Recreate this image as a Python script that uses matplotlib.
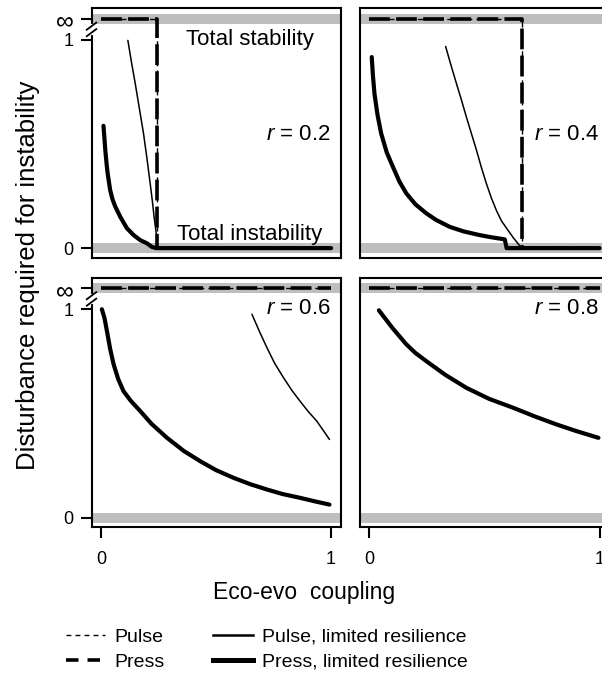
import matplotlib
matplotlib.use('Agg')
import matplotlib.pyplot as plt
import matplotlib.transforms as mtransforms
from matplotlib.lines import Line2D
import numpy as np

plt.rcParams['font.family'] = ['Liberation Sans', 'DejaVu Sans']
plt.rcParams['mathtext.fontset'] = 'custom'
plt.rcParams['mathtext.it'] = 'Liberation Sans:italic'
plt.rcParams['mathtext.rm'] = 'Liberation Sans'
plt.rcParams['lines.scale_dashes'] = False

# ---------------- data ----------------
INF_POS = 1.10   # where "infinity" is drawn on the broken y axis
inf = np.inf

r_values = [0.2, 0.4, 0.6, 0.8]
r_labels = ['0.2', '0.4', '0.6', '0.8']

# Press (unlimited resilience)
press_x_r02 = [0.0, 0.245, 0.245, 1.0]
press_y_r02 = [inf, inf, 0.0, 0.0]
press_x_r04 = [0.0, 0.661, 0.661, 1.0]
press_y_r04 = [inf, inf, 0.0, 0.0]
press_x_r06 = [0.0, 1.0]
press_y_r06 = [inf, inf]
press_x_r08 = [0.0, 1.0]
press_y_r08 = [inf, inf]

# Pulse (unlimited resilience)
pulse_x_r02 = [0.0, 0.245, 0.245, 1.0]
pulse_y_r02 = [inf, inf, 0.0, 0.0]
pulse_x_r04 = [0.0, 0.661, 0.661, 1.0]
pulse_y_r04 = [inf, inf, 0.0, 0.0]
pulse_x_r06 = [0.0, 1.0]
pulse_y_r06 = [inf, inf]
pulse_x_r08 = [0.0, 1.0]
pulse_y_r08 = [inf, inf]

# Pulse, limited resilience
pulse_lr_x_r02 = [0.117, 0.133, 0.149, 0.167, 0.185, 0.200, 0.214, 0.223, 0.231, 0.238, 0.243, 0.246]
pulse_lr_y_r02 = [0.997, 0.89, 0.79, 0.67, 0.55, 0.43, 0.31, 0.23, 0.15, 0.09, 0.047, 0.0]
pulse_lr_x_r04 = [0.331, 0.355, 0.378, 0.400, 0.421, 0.443, 0.465, 0.487, 0.508, 0.530,
                  0.552, 0.574, 0.596, 0.625, 0.661]
pulse_lr_y_r04 = [0.968, 0.875, 0.79, 0.71, 0.63, 0.55, 0.47, 0.385, 0.31, 0.24,
                  0.18, 0.13, 0.095, 0.05, 0.0]
pulse_lr_x_r06 = [0.656, 0.690, 0.721, 0.755, 0.793, 0.830, 0.865, 0.900, 0.938, 0.965, 0.993]
pulse_lr_y_r06 = [0.976, 0.89, 0.816, 0.74, 0.672, 0.61, 0.559, 0.51, 0.463, 0.42, 0.375]
pulse_lr_x_r08 = []
pulse_lr_y_r08 = []

# Press, limited resilience
press_lr_x_r02 = [0.011, 0.015, 0.019, 0.024, 0.029, 0.040, 0.050, 0.062, 0.084, 0.113,
                  0.142, 0.171, 0.200, 0.221, 0.240, 1.0]
press_lr_y_r02 = [0.587, 0.53, 0.47, 0.41, 0.36, 0.279, 0.235, 0.20, 0.15, 0.095,
                  0.0625, 0.038, 0.023, 0.006, 0.0, 0.0]
press_lr_x_r04 = [0.010, 0.015, 0.022, 0.035, 0.051, 0.075, 0.102, 0.130, 0.160, 0.200,
                  0.247, 0.290, 0.349, 0.410, 0.479, 0.530, 0.588, 0.596, 1.0]
press_lr_y_r04 = [0.917, 0.83, 0.74, 0.64, 0.55, 0.46, 0.39, 0.32, 0.263, 0.21,
                  0.167, 0.135, 0.102, 0.08, 0.0625, 0.052, 0.042, 0.0, 0.0]
press_lr_x_r06 = [0.004, 0.015, 0.026, 0.040, 0.055, 0.075, 0.098, 0.130, 0.171, 0.220,
                  0.287, 0.360, 0.431, 0.500, 0.576, 0.650, 0.721, 0.790, 0.865, 0.930, 0.993]
press_lr_y_r06 = [1.0, 0.96, 0.896, 0.81, 0.736, 0.665, 0.607, 0.56, 0.511, 0.45,
                  0.383, 0.32, 0.271, 0.228, 0.191, 0.16, 0.135, 0.113, 0.095, 0.078, 0.0625]
press_lr_x_r08 = [0.041, 0.100, 0.160, 0.200, 0.247, 0.330, 0.421, 0.520, 0.625, 0.720,
                  0.813, 0.900, 0.995]
press_lr_y_r08 = [0.995, 0.91, 0.832, 0.79, 0.751, 0.685, 0.623, 0.57, 0.527, 0.485,
                  0.447, 0.415, 0.383]

x_ticks = [0, 1]
x_tick_labels = ['0', '1']
y_ticks = [0, 1, INF_POS]
y_tick_labels = ['0', '1', '\u221e']

panels = [
    (press_x_r02, press_y_r02, pulse_x_r02, pulse_y_r02, pulse_lr_x_r02, pulse_lr_y_r02, press_lr_x_r02, press_lr_y_r02),
    (press_x_r04, press_y_r04, pulse_x_r04, pulse_y_r04, pulse_lr_x_r04, pulse_lr_y_r04, press_lr_x_r04, press_lr_y_r04),
    (press_x_r06, press_y_r06, pulse_x_r06, pulse_y_r06, pulse_lr_x_r06, pulse_lr_y_r06, press_lr_x_r06, press_lr_y_r06),
    (press_x_r08, press_y_r08, pulse_x_r08, pulse_y_r08, pulse_lr_x_r08, pulse_lr_y_r08, press_lr_x_r08, press_lr_y_r08),
]


def pos(y):
    y = np.asarray(y, dtype=float)
    return np.where(np.isinf(y), INF_POS, y)


# ---------------- figure ----------------
W, H = 602, 677
fig = plt.figure(figsize=(W / 100, H / 100), dpi=100)

ax_w, ax_h = 249.5 / W, 249 / H
lefts = [91.5 / W, 360 / W]
bottoms = [(H - 257.5) / H, (H - 527) / H]

GRAY = '#bebebe'
TXT = 16
TICK = 13

press_style = dict(color='black', lw=2.6, dashes=(15, 4.5), solid_capstyle='butt', dash_capstyle='butt')
pulse_style = dict(color='black', lw=1.0, dashes=(4, 3))
pulse_lr_style = dict(color='black', lw=1.1, solid_capstyle='round')
press_lr_style = dict(color='black', lw=3.0, solid_capstyle='round', solid_joinstyle='round')

for i, (r, rl, data) in enumerate(zip(r_values, r_labels, panels)):
    row, col = divmod(i, 2)
    ax = fig.add_axes([lefts[col], bottoms[row], ax_w, ax_h])
    ax.set_xlim(-0.041, 1.043)
    ax.set_ylim(-0.045, 1.15)
    for s in ax.spines.values():
        s.set_linewidth(1.5)

    ax.axhspan(-0.024, 0.024, color=GRAY, lw=0, zorder=0)
    ax.axhspan(INF_POS - 0.024, INF_POS + 0.024, color=GRAY, lw=0, zorder=0)

    px, py, ux, uy, lx, ly, sx, sy = data
    ax.plot(ux, pos(uy), **pulse_style, zorder=2)
    ax.plot(px, pos(py), **press_style, zorder=3)
    if len(lx):
        ax.plot(lx, ly, **pulse_lr_style, zorder=4)
    ax.plot(sx, sy, **press_lr_style, zorder=4)

    # ticks
    if row == 1:
        ax.set_xticks(x_ticks)
        ax.set_xticklabels(x_tick_labels, fontsize=TICK)
        ax.tick_params(axis='x', length=8, width=1.5, pad=9, direction='out')
    else:
        ax.set_xticks([])
    if col == 0:
        ax.set_yticks(y_ticks)
        ax.set_yticklabels(y_tick_labels, fontsize=TICK)
        ax.get_yticklabels()[2].set_fontsize(18)
        ax.tick_params(axis='y', length=8, width=1.5, pad=5, direction='out')
        # axis break marks
        trans = mtransforms.blended_transform_factory(ax.transAxes, ax.transData)
        ax.plot([0, 0], [1.034, 1.065], transform=trans, color='white', lw=3,
                clip_on=False, zorder=10)
        for yb in (1.034, 1.065):
            ax.plot([-0.019, 0.019], [yb - 0.017, yb + 0.017], transform=trans,
                    color='black', lw=1.3, clip_on=False, zorder=11)
    else:
        ax.set_yticks([])

    # labels inside panels
    if i == 0:
        ax.text(0.648, 0.976, 'Total stability', ha='center', va='baseline', fontsize=TXT)
        ax.text(0.648, 0.038, 'Total instability', ha='center', va='baseline', fontsize=TXT)
    ry = 0.519 if row == 0 else 0.979
    ax.text(0.997, ry, '$r$ = ' + rl, ha='right', va='baseline', fontsize=TXT)

fig.text(304 / W, 1 - 599 / H, 'Eco-evo  coupling', ha='center', va='baseline', fontsize=16.5)
fig.text(35 / W, 1 - 275 / H, 'Disturbance required for instability', ha='center', va='baseline',
         rotation=90, rotation_mode='anchor', fontsize=18.5)

handles = [
    Line2D([], [], color='black', lw=1.0, dashes=(3.5, 3)),
    Line2D([], [], color='black', lw=2.6, dashes=(9, 6.5)),
    Line2D([], [], color='black', lw=1.8),
    Line2D([], [], color='black', lw=3.6),
]
labels = ['Pulse', 'Press', 'Pulse, limited resilience', 'Press, limited resilience']
fig.legend(handles, labels, loc='center', bbox_to_anchor=(266.5 / W, 1 - 649.5 / H), ncol=2,
           frameon=False, fontsize=14, handlelength=2.05, handletextpad=0.45,
           columnspacing=2.5, labelspacing=0.36, borderaxespad=0, borderpad=0)

fig.savefig('out.png', dpi=100)
